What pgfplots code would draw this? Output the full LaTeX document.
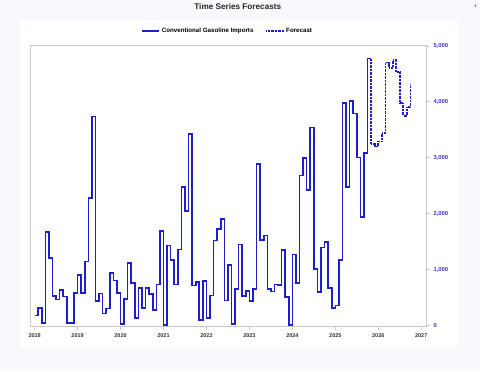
\documentclass[border=0pt]{standalone}
\usepackage{fontspec}
\setmainfont{Liberation Sans}
\usepackage{pgfplots}
\usepackage{pgfplotstable}
\pgfplotsset{compat=1.18}
\definecolor{bgout}{RGB}{247,249,253}
\definecolor{lineblue}{RGB}{30,30,205}
\definecolor{tickblue}{RGB}{55,55,200}
\definecolor{framegray}{RGB}{200,200,200}

% month index: 0 = Jan 2018
\pgfplotstableread{
x y
0 180
1 310
2 40
3 1667
4 1210
5 530
6 460
7 637
8 520
9 40
10 45
11 583
12 905
13 583
14 1145
15 2280
16 3735
17 440
18 570
19 215
20 300
21 934
22 804
23 583
24 30
25 476
26 1113
27 756
28 131
29 673
30 310
31 673
32 565
33 280
34 732
35 1684
36 12
37 1428
38 1173
39 732
40 1357
41 2470
42 2042
43 3422
44 714
45 774
46 101
47 792
48 137
49 536
50 1518
51 1726
52 1905
53 446
54 1083
55 30
56 655
57 1446
58 524
59 613
60 434
61 655
62 2887
63 1530
64 1607
65 655
66 607
67 732
68 726
69 1351
70 506
71 12
72 1268
73 756
74 2678
75 2994
76 2422
77 3541
78 1012
79 595
80 1390
81 1490
82 673
83 310
84 357
85 1173
86 3976
87 2470
88 4018
89 3791
90 3006
91 1934
92 3083
93 4774
}\actual

\pgfplotstableread{
x y
93 4774
94 3244
95 3200
96 3290
97 3440
98 4700
99 4610
100 4740
101 4530
102 3980
103 3750
104 3900
105 4315
}\forecast

\begin{document}
\begin{tikzpicture}[x=1pt,y=1pt]
\fill[bgout] (0,0) rectangle (480,371);
\fill[white] (20,25) rectangle (458,352);
\node[font=\fontsize{8.2}{9}\selectfont\bfseries, text=black!85] at (238,365.5) {Time Series Forecasts};
\node[font=\fontsize{4}{5}\selectfont\bfseries, text=black!80] at (476,365.5) {1};
\begin{axis}[
  at={(30pt,45pt)}, anchor=south west,
  scale only axis, width=397pt, height=281pt,
  xmin=-1.3, xmax=109.5, ymin=-20, ymax=5000,
  xtick={0,12,24,36,48,60,72,84,96,108},
  xticklabels={2018,2019,2020,2021,2022,2023,2024,2025,2026,2027},
  ytick={0,1000,2000,3000,4000,5000},
  ytick pos=right, yticklabel pos=right,
  xtick pos=bottom,
  tick align=outside,
  major tick length=3.5pt,
  tick style={framegray, line width=0.5pt},
  axis line style={framegray, line width=0.6pt},
  /pgf/number format/assume math mode=true,
  /pgf/number format/1000 sep={,},
  scaled y ticks=false,
  xticklabel style={font=\fontsize{5.5}{6}\selectfont\bfseries, text=black!80},
  yticklabel style={font=\fontsize{5.8}{6}\selectfont\bfseries, text=tickblue},
  legend columns=2,
  legend style={at={(axis description cs:0.4985,1)}, anchor=center, yshift=15pt,
    draw=none, fill=none, font=\fontsize{6.2}{7}\selectfont\bfseries,
    /tikz/every even column/.append style={column sep=10pt}},
  legend image code/.code={\draw[#1] (0pt,0pt) -- (17pt,0pt);},
]
\addplot[const plot, lineblue, line width=1.6pt] table[x=x,y=y] {\actual};
\addlegendentry{Conventional Gasoline Imports}
\addplot[const plot, lineblue, line width=1.8pt, dash pattern=on 0.5pt off 0.9pt] table[x=x,y=y] {\forecast};
\addlegendentry{Forecast}
\end{axis}
\end{tikzpicture}
\end{document}
